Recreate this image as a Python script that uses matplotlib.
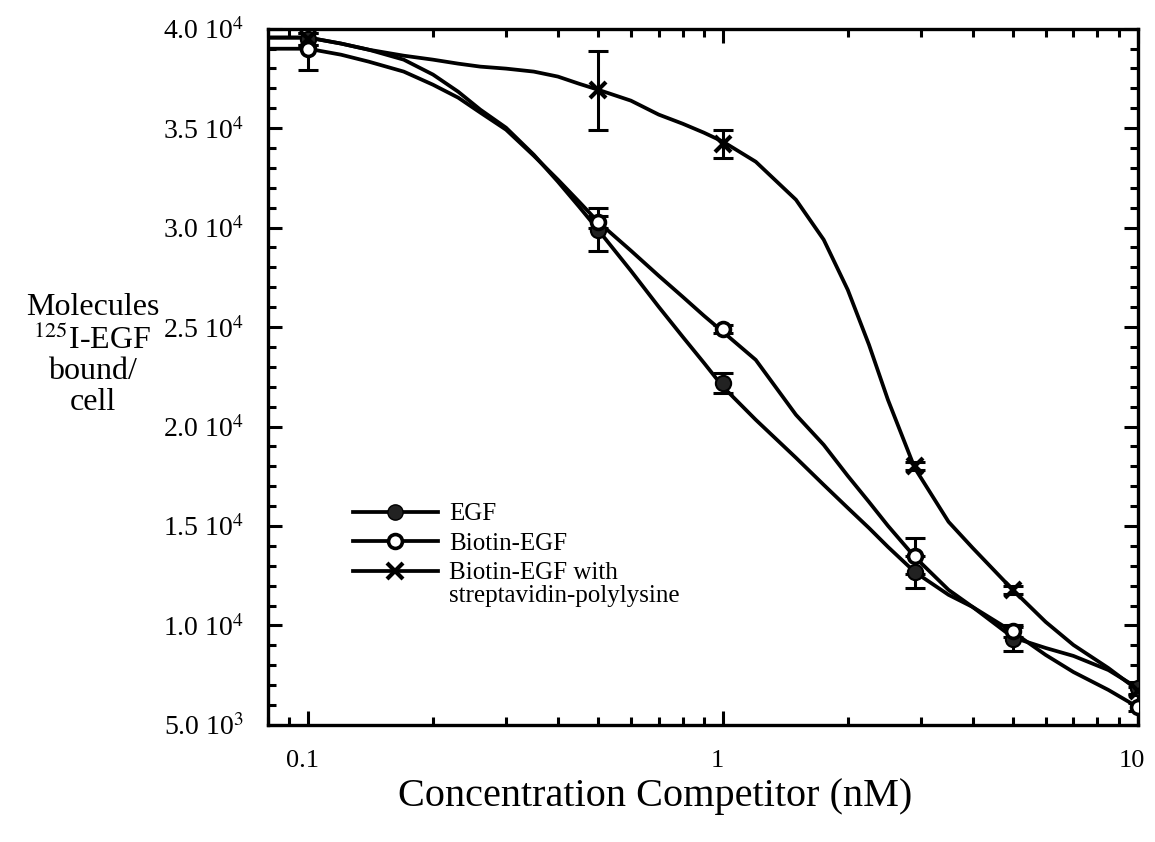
import matplotlib

matplotlib.use("Agg")
import matplotlib.pyplot as plt  # noqa: E402
import matplotlib.transforms as mtransforms  # noqa: E402
import numpy as np  # noqa: E402
from matplotlib.lines import Line2D  # noqa: E402
from matplotlib.ticker import (  # noqa: E402
    FixedLocator,
    FuncFormatter,
    LogLocator,
    MultipleLocator,
    NullFormatter,
)

plt.rcParams["font.family"] = "Liberation Serif"
plt.rcParams["mathtext.fontset"] = "stix"

# ------------------------------------------------------------ measured points
conc = [0.1, 0.5, 1.0, 2.9, 5.0, 10.0]
egf = [39500, 29900, 22200, 12700, 9300, 6850]
egf_err = [300, 1100, 500, 800, 600, 300]
biotin = [39000, 30300, 24900, 13500, 9700, 5900]
biotin_err = [1100, 300, 200, 900, 300, 200]
strep = [39500, 36900, 34200, 18000, 11800, 6700]
strep_err = [300, 2000, 700, 200, 200, 200]

# ------------------------------------- smooth fitted curves
fit_x = [0.08, 0.1, 0.12, 0.14, 0.17, 0.2, 0.23, 0.26, 0.3, 0.35, 0.4, 0.45,
         0.5, 0.6, 0.7, 0.8, 0.9, 1.0, 1.2, 1.5, 1.75, 2.0, 2.25, 2.5, 2.9,
         3.5, 4.0, 5.0, 6.0, 7.0, 8.5, 10.0]
egf_fit = [39550, 39550, 39250, 38940, 38440, 37690, 36830, 35930, 35020,
           33660, 32310, 31050, 29890, 27830, 26020, 24510, 23200, 22000,
           20340, 18430, 17070, 15910, 14900, 13950, 12690, 11540, 10930,
           9400, 8870, 8470, 7760, 6860]
biotin_fit = [38990, 38990, 38690, 38340, 37840, 37180, 36530, 35780, 34920,
              33610, 32410, 31300, 30290, 28840, 27580, 26520, 25570, 24760,
              23350, 20590, 19080, 17520, 16210, 15010, 13450, 11790, 10930,
              9680, 8520, 7660, 6760, 5900]
strep_fit = [39550, 39550, 39250, 38940, 38640, 38440, 38240, 38090, 37990,
             37840, 37590, 37230, 36930, 36380, 35680, 35220, 34770, 34320,
             33310, 31400, 29390, 26870, 24110, 21340, 17920, 15210, 13900,
             11790, 10180, 9020, 7860, 6760]

labels = ["EGF", "Biotin-EGF", "Biotin-EGF with"]
label_extra = "streptavidin-polylysine"


def sci_label(v, _pos):
    if v <= 0:
        return ""
    exp = int(np.floor(np.log10(v) + 1e-9))
    return f"{v / 10 ** exp:.1f} 10$^{{{exp}}}$"


fig = plt.figure(figsize=(11.55, 8.42), dpi=100)
ax = fig.add_axes([0.232, 0.139, 0.753, 0.827])

lw = 2.7
for fx in (egf_fit, biotin_fit, strep_fit):
    ax.plot(fit_x, fx, color="black", lw=lw, solid_capstyle="round",
            solid_joinstyle="round", zorder=2)

for ys, es in ((egf, egf_err), (biotin, biotin_err), (strep, strep_err)):
    ax.errorbar(conc, ys, yerr=es, fmt="none", ecolor="black", elinewidth=2.2,
                capsize=7, capthick=2.2, zorder=3)

ax.plot(conc, egf, "o", ms=11, mfc="#222222", mec="black", mew=1.5, zorder=4)
ax.plot(conc, biotin, "o", ms=10, mfc="white", mec="black", mew=2.6, zorder=4)
ax.plot(conc, strep, "x", ms=12, mec="black", mew=3, zorder=4)

ax.set_xscale("log")
ax.set_xlim(0.08, 10)
ax.set_ylim(5000, 40000)

ax.xaxis.set_major_locator(FixedLocator([0.1, 1, 10]))
ax.xaxis.set_major_formatter(FuncFormatter(lambda v, p: f"{v:g}"))
ax.xaxis.set_minor_locator(LogLocator(base=10, subs=np.arange(2, 10)))
ax.xaxis.set_minor_formatter(NullFormatter())
ax.yaxis.set_major_locator(MultipleLocator(5000))
ax.yaxis.set_minor_locator(MultipleLocator(1000))
ax.yaxis.set_major_formatter(FuncFormatter(sci_label))

ax.tick_params(which="both", direction="in", top=True, right=True, width=2.2,
               colors="black")
ax.tick_params(which="major", length=10)
ax.tick_params(which="minor", length=6)
ax.tick_params(axis="y", labelsize=20, pad=17)
ax.tick_params(axis="x", labelsize=19, pad=18)
for s in ax.spines.values():
    s.set_linewidth(2.4)

shift = mtransforms.ScaledTranslation(-0.06, 0, fig.dpi_scale_trans)
for lab in ax.get_xticklabels():
    lab.set_transform(lab.get_transform() + shift)

ax.set_xlabel("Concentration Competitor (nM)", fontsize=29)
ax.xaxis.set_label_coords(0.445, -0.076)
fig.text(0.08, 0.578, "Molecules\n$^{125}$I-EGF\nbound/\ncell", fontsize=23,
         ha="center", va="center", linespacing=1.08)

handles = [
    Line2D([], [], color="black", lw=lw, marker="o", ms=11, mfc="#222222", mec="black"),
    Line2D([], [], color="black", lw=lw, marker="o", ms=10, mfc="white", mec="black", mew=2.6),
    Line2D([], [], color="black", lw=lw, marker="x", ms=12, mew=3),
]
leg = ax.legend(handles, labels, loc="upper left", bbox_to_anchor=(0.083, 0.337),
                frameon=False, fontsize=18, handlelength=3.4, handletextpad=0.45,
                labelspacing=0.28, borderpad=0)

# second line of the last legend label sits tight under the first
fig.canvas.draw()
bb = leg.get_texts()[2].get_window_extent()
W, H = fig.canvas.get_width_height()
fig.text(bb.x0 / W, (bb.y0 - 1) / H, label_extra, fontsize=18, ha="left", va="top")

fig.savefig("out.png", dpi=100)
